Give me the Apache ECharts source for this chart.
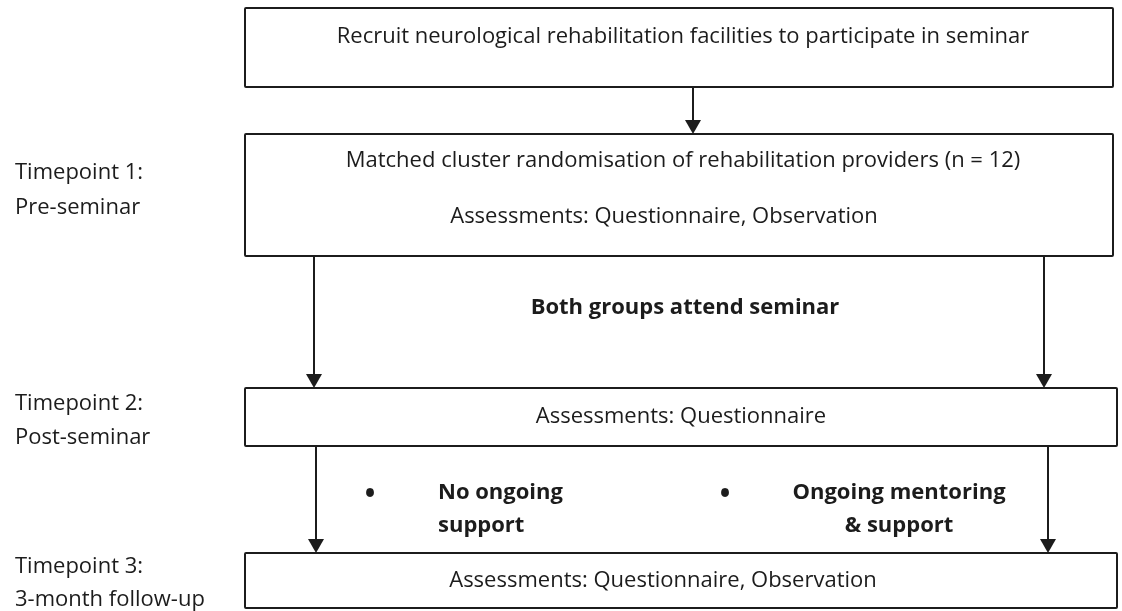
<!DOCTYPE html>
<html>
<head>
<meta charset="utf-8">
<script src="https://cdn.jsdelivr.net/npm/echarts@6/dist/echarts.min.js"></script>
<style>
  html, body { margin: 0; padding: 0; background: #fff; }
  #chart { width: 1122px; height: 611px; }
</style>
</head>
<body>
<div id="chart"></div>
<script>
// ---- Content (texts) ----
const stepTexts = [
  ["Recruit neurological rehabilitation facilities to participate in seminar"],
  ["Matched cluster randomisation of rehabilitation providers (n = 12)", "Assessments: Questionnaire, Observation"],
  ["Assessments: Questionnaire"],
  ["Assessments: Questionnaire, Observation"]
];
const timepointLabels = [
  ["Timepoint 1:", "Pre-seminar"],
  ["Timepoint 2:", "Post-seminar"],
  ["Timepoint 3:", "3-month follow-up"]
];
const seminarLabel = "Both groups attend seminar";
const groupLabels = [
  ["No ongoing", "support"],
  ["Ongoing mentoring", "& support"]
];
const bulletChar = "\u2022";

// ---- Layout (diagram units on hidden 0..1122 x 0..611 axes) ----
const boxLayout = [
  [245, 8, 1113, 87],
  [245, 134, 1113, 256],
  [245, 388, 1117, 446],
  [245, 553, 1117, 608]
];
const stepTextPos = [
  [[683, 37]],
  [[683, 161], [664, 217]],
  [[681, 417]],
  [[663, 581]]
];
const arrowLayout = [
  [693, 87, 134],
  [314, 256, 388],
  [1044, 256, 388],
  [316, 446, 553],
  [1048, 446, 553]
];
const timepointPos = [[15, 173, 208], [15, 404, 438], [15, 567, 600]];
const seminarPos = [685, 308];
const groupPos = [
  { bullet: [370, 495], x: 438, y: [493, 526], align: 'left' },
  { bullet: [725, 495], x: 899, y: [493, 526], align: 'center' }
];

const FONT = "'Open Sans', 'Noto Sans', sans-serif";
const FONT_SIZE = 22;
const INK = '#1c1c1c';

// Build text items
const textItems = [];
stepTexts.forEach((lines, i) => {
  lines.forEach((t, j) => {
    textItems.push({ text: t, x: stepTextPos[i][j][0], y: stepTextPos[i][j][1], align: 'center', bold: false });
  });
});
timepointLabels.forEach((lines, i) => {
  textItems.push({ text: lines[0], x: timepointPos[i][0], y: timepointPos[i][1], align: 'left', bold: false });
  textItems.push({ text: lines[1], x: timepointPos[i][0], y: timepointPos[i][2], align: 'left', bold: false });
});
textItems.push({ text: seminarLabel, x: seminarPos[0], y: seminarPos[1], align: 'center', bold: true });
groupLabels.forEach((lines, i) => {
  const g = groupPos[i];
  textItems.push({ text: bulletChar, x: g.bullet[0], y: g.bullet[1], align: 'center', bold: true, size: 28 });
  lines.forEach((t, j) => {
    textItems.push({ text: t, x: g.x, y: g.y[j], align: g.align, bold: true });
  });
});

const chart = echarts.init(document.getElementById('chart'), null, { renderer: 'canvas' });

chart.setOption({
  animation: false,
  backgroundColor: '#ffffff',
  grid: { left: 0, right: 0, top: 0, bottom: 0 },
  xAxis: { type: 'value', min: 0, max: 1122, show: false },
  yAxis: { type: 'value', min: 0, max: 611, inverse: true, show: false },
  series: [
    {
      type: 'custom',
      name: 'boxes',
      coordinateSystem: 'cartesian2d',
      data: boxLayout,
      clip: false,
      renderItem: function (params, api) {
        const p0 = api.coord([api.value(0), api.value(1)]);
        const p1 = api.coord([api.value(2), api.value(3)]);
        return {
          type: 'rect',
          shape: { x: p0[0], y: p0[1], width: p1[0] - p0[0], height: p1[1] - p0[1], r: 1 },
          style: { fill: '#ffffff', stroke: INK, lineWidth: 2 }
        };
      }
    },
    {
      type: 'custom',
      name: 'arrows',
      coordinateSystem: 'cartesian2d',
      data: arrowLayout,
      clip: false,
      renderItem: function (params, api) {
        const a = api.coord([api.value(0), api.value(1)]);
        const b = api.coord([api.value(0), api.value(2)]);
        const headH = 14, headW = 8;
        return {
          type: 'group',
          children: [
            {
              type: 'line',
              shape: { x1: a[0], y1: a[1], x2: b[0], y2: b[1] - headH + 1 },
              style: { stroke: INK, lineWidth: 2 }
            },
            {
              type: 'polygon',
              shape: { points: [[b[0] - headW, b[1] - headH], [b[0] + headW, b[1] - headH], [b[0], b[1]]] },
              style: { fill: INK }
            }
          ]
        };
      }
    },
    {
      type: 'custom',
      name: 'texts',
      coordinateSystem: 'cartesian2d',
      data: textItems.map(t => [t.x, t.y]),
      clip: false,
      renderItem: function (params, api) {
        const t = textItems[params.dataIndex];
        const p = api.coord([api.value(0), api.value(1)]);
        return {
          type: 'text',
          x: p[0],
          y: p[1],
          style: {
            text: t.text,
            fill: INK,
            font: (t.bold ? 'bold ' : '') + (t.size || FONT_SIZE) + 'px ' + FONT,
            textAlign: t.align,
            textVerticalAlign: 'middle'
          }
        };
      }
    }
  ]
});
</script>
</body>
</html>
